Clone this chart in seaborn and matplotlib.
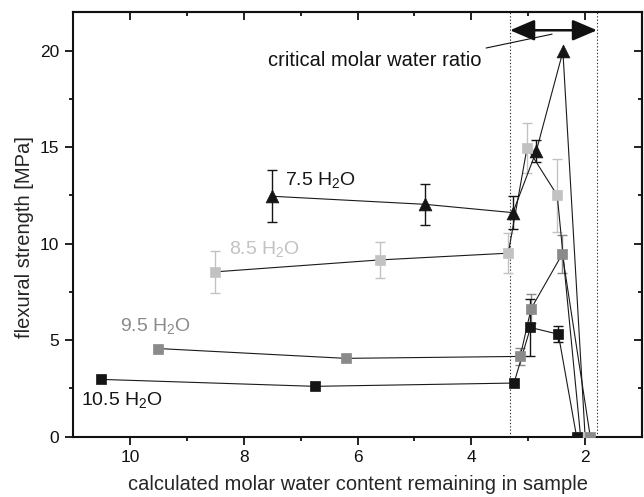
import matplotlib
matplotlib.use("Agg")
import matplotlib.pyplot as plt
import seaborn as sns
import numpy as np
import pandas as pd

# ---------------- data ----------------
x_75 = [7.51, 4.81, 3.27, 2.86, 2.39, 2.00]
y_75 = [12.45, 12.03, 11.6, 14.77, 19.95, 0.0]
e_75 = [1.35, 1.05, 0.85, 0.57, np.nan, np.nan]

x_85 = [8.51, 5.61, 3.35, 3.02, 2.49, 2.08]
y_85 = [8.53, 9.15, 9.5, 14.97, 12.5, 0.0]
e_85 = [1.1, 0.95, 1.03, 1.3, 1.9, np.nan]

x_95 = [9.51, 6.21, 3.14, 2.95, 2.40, 1.91]
y_95 = [4.56, 4.05, 4.15, 6.62, 9.46, 0.0]
e_95 = [np.nan, np.nan, 0.45, 0.75, 1.0, np.nan]

x_105 = [10.51, 6.75, 3.25, 2.96, 2.47, 2.15]
y_105 = [2.96, 2.6, 2.77, 5.65, 5.3, 0.0]
e_105 = [np.nan, np.nan, np.nan, 1.5, 0.42, np.nan]

series_names = ["7.5 H$_2$O", "8.5 H$_2$O", "9.5 H$_2$O", "10.5 H$_2$O"]
series_colors = ["#151515", "#c2c2c2", "#8a8a8a", "#151515"]
series_markers = ["^", "s", "s", "s"]
label_pos = [(7.28, 13.3), (8.26, 9.7), (10.18, 5.75), (10.86, 1.9)]

critical_bounds = [3.32, 1.79]
arrow_y = 21.05
note_text = "critical molar water ratio"
note_pos = (7.58, 19.5)
note_line = [(3.74, 20.13), (2.58, 20.85)]

xticks = [10, 8, 6, 4, 2]
yticks = [0, 5, 10, 15, 20]

# ---------------- plotting ----------------
sns.set_theme(style="white")
plt.rcParams["font.family"] = ["Liberation Sans", "DejaVu Sans"]
plt.rcParams["mathtext.fontset"] = "custom"
plt.rcParams["mathtext.rm"] = "Liberation Sans"
plt.rcParams["mathtext.it"] = "Liberation Sans:italic"

fig = plt.figure(figsize=(6.44, 4.97), dpi=100)
ax = fig.add_axes([0.1134, 0.1217, 0.8835, 0.8543])

all_x = [x_75, x_85, x_95, x_105]
all_y = [y_75, y_85, y_95, y_105]
all_e = [e_75, e_85, e_95, e_105]

frames = []
for name, xs, ys, es in zip(series_names, all_x, all_y, all_e):
    frames.append(pd.DataFrame({"x": xs, "y": ys, "err": es, "series": name}))
df = pd.concat(frames, ignore_index=True)

for name, col, mk, (lx, ly) in zip(series_names, series_colors, series_markers, label_pos):
    d = df[df["series"] == name]
    ax.errorbar(d["x"], d["y"], yerr=d["err"], fmt="none", ecolor=col,
                elinewidth=1.0, capsize=3.5, capthick=1.0, zorder=2)
    sns.lineplot(data=d, x="x", y="y", sort=False, estimator=None, ax=ax,
                 color="#1a1a1a", linewidth=0.8, zorder=3, legend=False)
    dm = d if mk == "s" else d[d["y"] > 0]
    sns.scatterplot(data=dm, x="x", y="y", marker=mk, color=col, ax=ax,
                    s=(85 if mk == "^" else 48), edgecolor=col, linewidth=0.5,
                    zorder=4, legend=False)
    ax.text(lx, ly, name, color=col, fontsize=14, ha="left", va="center")

# critical region
for b in critical_bounds:
    ax.plot([b, b], [0, 22], linestyle=(0, (1.2, 1.8)), color="#333333", linewidth=0.8, zorder=1)
ax.plot(critical_bounds, [0, 0], linestyle=(0, (1.2, 1.8)), color="#666666", linewidth=0.8, zorder=1)
ax.annotate("", xy=(critical_bounds[1], arrow_y), xytext=(critical_bounds[0], arrow_y),
            arrowprops=dict(arrowstyle="<|-|>,head_length=0.75,head_width=0.32",
                            color="#111111", lw=1.8, shrinkA=0, shrinkB=0,
                            mutation_scale=20))
ax.plot([note_line[0][0], note_line[1][0]], [note_line[0][1], note_line[1][1]],
        color="#111111", linewidth=0.8)
ax.text(note_pos[0], note_pos[1], note_text, fontsize=14.5, ha="left", va="center", color="#111111")

ax.set_xlim(11, 1)
ax.set_ylim(0, 22)
ax.set_xticks(xticks)
ax.set_yticks(yticks)
ax.set_xticks([9, 7, 5, 3], minor=True)
ax.set_yticks([2.5, 7.5, 12.5, 17.5], minor=True)
ax.set_xlabel("calculated molar water content remaining in sample", fontsize=14.5, labelpad=7)
ax.set_ylabel("flexural strength [MPa]", fontsize=14.5)
ax.yaxis.set_label_coords(-0.069, 0.47)

for sp in ax.spines.values():
    sp.set_linewidth(1.5)
    sp.set_color("#111111")

ax.tick_params(which="both", direction="out", top=False, right=False,
               bottom=True, left=True, colors="#111111", labelsize=12.5)
ax.tick_params(which="major", length=6, width=1.3, pad=4)
ax.tick_params(which="minor", length=3, width=1.3)

ax_t = ax.secondary_xaxis("top")
ax_t.set_xticks(xticks)
ax_t.set_xticks([9, 7, 5, 3], minor=True)
ax_t.tick_params(which="both", direction="in", labeltop=False, colors="#111111")
ax_t.tick_params(which="major", length=6, width=1.3)
ax_t.tick_params(which="minor", length=3, width=1.3)
ax_t.spines["top"].set_linewidth(1.5)
ax_r = ax.secondary_yaxis("right")
ax_r.set_yticks(yticks)
ax_r.set_yticks([2.5, 7.5, 12.5, 17.5], minor=True)
ax_r.tick_params(which="both", direction="in", labelright=False, colors="#111111")
ax_r.tick_params(which="major", length=6, width=1.3)
ax_r.tick_params(which="minor", length=3, width=1.3)
ax_r.spines["right"].set_linewidth(1.5)

fig.savefig("out.png", dpi=100)
